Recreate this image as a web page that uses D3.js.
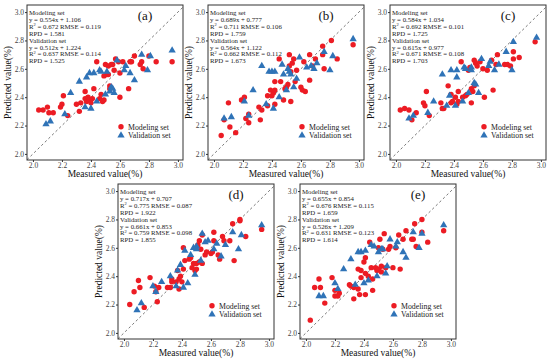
<!DOCTYPE html>
<html>
<head>
<meta charset="utf-8">
<script src="https://cdn.jsdelivr.net/npm/d3@7"></script>
<style>
  body { margin: 0; background: #fff; }
  svg { display: block; font-family: "Liberation Serif", "Times New Roman", serif; }
</style>
</head>
<body>
<svg id="chart" width="550" height="363"></svg>
<script>
'use strict';

// tick values shared by both axes
var tickValues = [2.0, 2.2, 2.4, 2.6, 2.8, 3.0];
var panelLabels = ['(a)', '(b)', '(c)', '(d)', '(e)'];
var legendLabels = ['Modeling set', 'Validation set'];

// [measured, predicted] pairs
var modelA = [[2.04,2.31],[2.07,2.31],[2.10,2.33],[2.11,2.29],[2.14,2.29],[2.19,2.33],[2.20,2.35],[2.21,2.41],
  [2.24,2.27],[2.30,2.35],[2.32,2.30],[2.33,2.36],[2.36,2.39],[2.36,2.44],[2.37,2.37],[2.38,2.40],[2.39,2.38],
  [2.40,2.36],[2.41,2.39],[2.42,2.46],[2.44,2.65],[2.46,2.39],[2.47,2.42],[2.48,2.37],[2.49,2.38],[2.49,2.55],
  [2.50,2.63],[2.51,2.56],[2.52,2.56],[2.52,2.62],[2.53,2.48],[2.53,2.46],[2.54,2.63],[2.55,2.63],[2.56,2.59],
  [2.57,2.67],[2.59,2.65],[2.60,2.57],[2.60,2.40],[2.62,2.65],[2.66,2.46],[2.67,2.65],[2.68,2.65],[2.70,2.69],
  [2.74,2.63],[2.75,2.65],[2.76,2.60],[2.80,2.69],[2.85,2.65],[2.96,2.65]];
var validA = [[2.09,2.21],[2.12,2.23],[2.22,2.28],[2.26,2.43],[2.32,2.51],[2.36,2.33],[2.37,2.54],[2.39,2.57],
  [2.40,2.32],[2.42,2.57],[2.44,2.37],[2.46,2.59],[2.47,2.58],[2.50,2.42],[2.51,2.58],[2.53,2.44],[2.54,2.47],
  [2.55,2.46],[2.56,2.43],[2.58,2.66],[2.63,2.59],[2.64,2.62],[2.67,2.57],[2.70,2.52],[2.75,2.70],[2.79,2.59],
  [2.81,2.69],[2.96,2.73]];

var modelB = [[2.05,2.13],[2.07,2.24],[2.10,2.36],[2.11,2.19],[2.15,2.15],[2.19,2.38],[2.21,2.40],[2.22,2.25],
  [2.24,2.22],[2.24,2.28],[2.31,2.33],[2.32,2.24],[2.33,2.31],[2.37,2.34],[2.37,2.41],[2.39,2.45],[2.40,2.41],
  [2.41,2.43],[2.42,2.45],[2.42,2.51],[2.42,2.35],[2.45,2.67],[2.46,2.51],[2.48,2.38],[2.49,2.46],[2.50,2.47],
  [2.51,2.49],[2.52,2.70],[2.52,2.62],[2.53,2.37],[2.53,2.58],[2.54,2.64],[2.55,2.67],[2.56,2.51],[2.57,2.59],
  [2.60,2.47],[2.61,2.45],[2.62,2.65],[2.63,2.44],[2.66,2.70],[2.66,2.52],[2.68,2.62],[2.70,2.67],[2.75,2.70],
  [2.75,2.76],[2.76,2.60],[2.81,2.80],[2.85,2.67],[2.96,2.77]];
var validB = [[2.07,2.25],[2.12,2.26],[2.21,2.37],[2.24,2.27],[2.27,2.45],[2.33,2.62],[2.36,2.35],[2.38,2.58],
  [2.40,2.58],[2.41,2.32],[2.42,2.58],[2.45,2.40],[2.47,2.63],[2.48,2.56],[2.50,2.45],[2.51,2.60],[2.52,2.58],
  [2.53,2.56],[2.55,2.47],[2.57,2.53],[2.59,2.68],[2.64,2.61],[2.67,2.62],[2.69,2.60],[2.71,2.64],[2.76,2.72],
  [2.80,2.59],[2.82,2.69],[2.96,2.81]];

var modelC = [[2.03,2.31],[2.06,2.32],[2.09,2.31],[2.11,2.24],[2.14,2.29],[2.19,2.36],[2.20,2.34],[2.21,2.44],
  [2.23,2.27],[2.31,2.36],[2.32,2.32],[2.33,2.32],[2.36,2.48],[2.38,2.36],[2.38,2.42],[2.39,2.37],[2.41,2.40],
  [2.42,2.35],[2.43,2.37],[2.43,2.44],[2.45,2.65],[2.46,2.40],[2.48,2.41],[2.49,2.42],[2.50,2.59],[2.51,2.61],
  [2.52,2.46],[2.52,2.36],[2.53,2.44],[2.54,2.48],[2.54,2.66],[2.55,2.64],[2.56,2.62],[2.58,2.65],[2.60,2.60],
  [2.61,2.40],[2.63,2.59],[2.66,2.66],[2.67,2.45],[2.69,2.63],[2.70,2.70],[2.75,2.63],[2.77,2.63],[2.79,2.62],
  [2.81,2.72],[2.81,2.67],[2.85,2.68],[2.96,2.79]];
var validC = [[2.09,2.25],[2.12,2.27],[2.22,2.29],[2.26,2.37],[2.32,2.56],[2.35,2.34],[2.37,2.41],[2.38,2.59],
  [2.41,2.34],[2.42,2.54],[2.42,2.59],[2.46,2.37],[2.47,2.61],[2.48,2.60],[2.50,2.43],[2.52,2.61],[2.52,2.59],
  [2.54,2.50],[2.55,2.49],[2.57,2.43],[2.59,2.67],[2.64,2.62],[2.65,2.65],[2.68,2.59],[2.71,2.63],[2.76,2.72],
  [2.80,2.59],[2.81,2.79],[2.97,2.82]];

var modelD = [[2.04,2.20],[2.07,2.29],[2.10,2.37],[2.11,2.32],[2.14,2.18],[2.18,2.39],[2.21,2.33],[2.22,2.29],
  [2.23,2.22],[2.24,2.32],[2.30,2.32],[2.32,2.32],[2.33,2.38],[2.33,2.36],[2.36,2.36],[2.37,2.44],[2.38,2.31],
  [2.38,2.38],[2.39,2.40],[2.40,2.36],[2.41,2.45],[2.41,2.60],[2.42,2.51],[2.45,2.52],[2.46,2.53],[2.47,2.46],
  [2.48,2.49],[2.49,2.44],[2.50,2.45],[2.50,2.49],[2.51,2.62],[2.52,2.65],[2.52,2.50],[2.53,2.59],[2.54,2.49],
  [2.54,2.69],[2.56,2.55],[2.57,2.57],[2.60,2.56],[2.61,2.57],[2.62,2.71],[2.62,2.65],[2.65,2.55],[2.66,2.52],
  [2.68,2.68],[2.69,2.65],[2.73,2.65],[2.75,2.77],[2.76,2.51],[2.80,2.79],[2.80,2.80],[2.84,2.68],[2.95,2.73]];
var validD = [[2.09,2.16],[2.12,2.21],[2.20,2.33],[2.22,2.29],[2.26,2.36],[2.32,2.40],[2.36,2.33],[2.37,2.44],
  [2.39,2.48],[2.41,2.32],[2.42,2.58],[2.44,2.35],[2.46,2.55],[2.48,2.60],[2.49,2.41],[2.50,2.61],[2.50,2.59],
  [2.53,2.51],[2.54,2.70],[2.56,2.64],[2.58,2.65],[2.62,2.59],[2.64,2.63],[2.67,2.54],[2.70,2.62],[2.75,2.71],
  [2.79,2.59],[2.81,2.69],[2.95,2.76]];

var modelE = [[2.03,2.09],[2.06,2.32],[2.09,2.38],[2.10,2.32],[2.13,2.21],[2.18,2.39],[2.20,2.30],[2.20,2.26],
  [2.22,2.26],[2.23,2.28],[2.30,2.34],[2.31,2.33],[2.33,2.24],[2.33,2.32],[2.36,2.45],[2.36,2.31],[2.37,2.27],
  [2.38,2.44],[2.38,2.39],[2.40,2.50],[2.41,2.53],[2.41,2.42],[2.41,2.27],[2.43,2.40],[2.44,2.64],[2.45,2.46],
  [2.46,2.30],[2.46,2.38],[2.48,2.46],[2.49,2.44],[2.50,2.45],[2.50,2.60],[2.51,2.66],[2.52,2.43],[2.52,2.47],
  [2.53,2.59],[2.54,2.70],[2.55,2.46],[2.57,2.59],[2.58,2.61],[2.60,2.46],[2.62,2.60],[2.64,2.69],[2.65,2.45],
  [2.67,2.66],[2.69,2.72],[2.73,2.66],[2.74,2.66],[2.75,2.77],[2.76,2.61],[2.80,2.80],[2.80,2.71],[2.84,2.64],
  [2.95,2.72]];
var validE = [[2.09,2.26],[2.12,2.26],[2.20,2.35],[2.22,2.31],[2.26,2.45],[2.31,2.52],[2.34,2.34],[2.36,2.57],
  [2.38,2.57],[2.40,2.35],[2.41,2.58],[2.43,2.37],[2.45,2.62],[2.47,2.61],[2.49,2.40],[2.50,2.57],[2.52,2.59],
  [2.53,2.59],[2.55,2.42],[2.56,2.47],[2.58,2.66],[2.62,2.61],[2.63,2.64],[2.67,2.57],[2.69,2.53],[2.74,2.71],
  [2.78,2.60],[2.80,2.70],[2.95,2.76]];

// statistics text, one array per panel
var statsA = ['Modeling set', 'y = 0.554x + 1.106', 'R2 = 0.672  RMSE = 0.119', 'RPD = 1.581',
  'Validation set', 'y = 0.512x + 1.224', 'R2 = 0.637  RMSE = 0.114', 'RPD = 1.525'];
var statsB = ['Modeling set', 'y = 0.689x + 0.777', 'R2 = 0.711  RMSE = 0.106', 'RPD = 1.759',
  'Validation set', 'y = 0.564x + 1.122', 'R2 = 0.662  RMSE = 0.112', 'RPD = 1.673'];
var statsC = ['Modeling set', 'y = 0.584x + 1.034', 'R2 = 0.692  RMSE = 0.101', 'RPD = 1.725',
  'Validation set', 'y = 0.615x + 0.977', 'R2 = 0.671  RMSE = 0.108', 'RPD = 1.703'];
var statsD = ['Modeling set', 'y = 0.717x + 0.707', 'R2 = 0.775  RMSE = 0.087', 'RPD = 1.922',
  'Validation set', 'y = 0.661x + 0.853', 'R2 = 0.759  RMSE = 0.098', 'RPD = 1.855'];
var statsE = ['Modeling set', 'y = 0.655x + 0.854', 'R2 = 0.676  RMSE = 0.115', 'RPD = 1.659',
  'Validation set', 'y = 0.526x + 1.209', 'R2 = 0.631  RMSE = 0.123', 'RPD = 1.614'];

var RED = '#ec1c24';
var BLUE = '#2f73b7';
var SERIF = 'Liberation Serif';
var W = 156, H = 155;

var svg = d3.select('#chart').attr('font-family', SERIF);

var panels = [
  { left: 27,  top: 5,   model: modelA, valid: validA, stats: statsA },
  { left: 208, top: 5,   model: modelB, valid: validB, stats: statsB },
  { left: 390, top: 5,   model: modelC, valid: validC, stats: statsC },
  { left: 118, top: 184, model: modelD, valid: validD, stats: statsD },
  { left: 300, top: 184, model: modelE, valid: validE, stats: statsE }
];

panels.forEach(function (p, i) {
  var g = svg.append('g').attr('transform', 'translate(' + p.left + ',' + p.top + ')');

  var x = d3.scaleLinear().domain([1.959, 3.035]).range([0, W]);
  var y = d3.scaleLinear().domain([1.957, 3.050]).range([H, 0]);

  // 1:1 line
  var lo = 1.959, hi = 3.035;
  g.append('line')
    .attr('x1', x(lo)).attr('y1', y(lo))
    .attr('x2', x(hi)).attr('y2', y(hi))
    .attr('stroke', '#555').attr('stroke-width', 0.8)
    .attr('stroke-dasharray', '2.5,2.5');

  // axes
  var xa = g.append('g').attr('transform', 'translate(0,' + H + ')')
    .call(d3.axisBottom(x).tickValues(tickValues).tickFormat(d3.format('.1f')).tickSize(2).tickSizeOuter(0));
  var ya = g.append('g')
    .call(d3.axisLeft(y).tickValues(tickValues).tickFormat(d3.format('.1f')).tickSize(2).tickSizeOuter(0));
  [xa, ya].forEach(function (a) {
    a.attr('font-family', SERIF);
    a.select('.domain').remove();
    a.selectAll('line').attr('stroke', '#333');
    a.selectAll('text').attr('font-size', 7.5).attr('fill', '#444');
  });
  xa.selectAll('text').attr('dy', null).attr('y', 8.3);
  ya.selectAll('text').attr('x', -3);

  // frame
  g.append('rect').attr('width', W).attr('height', H)
    .attr('fill', 'none').attr('stroke', '#333').attr('stroke-width', 1);

  // points
  g.selectAll('circle.m').data(p.model).enter().append('circle')
    .attr('class', 'm')
    .attr('cx', function (d) { return x(d[0]); })
    .attr('cy', function (d) { return y(d[1]); })
    .attr('r', 2.7).attr('fill', RED);

  var tri = d3.symbol().type(d3.symbolTriangle).size(23);
  g.selectAll('path.v').data(p.valid).enter().append('path')
    .attr('class', 'v')
    .attr('d', tri)
    .attr('transform', function (d) { return 'translate(' + x(d[0]) + ',' + y(d[1]) + ')'; })
    .attr('fill', BLUE);

  // stats block
  var st = g.append('text').attr('font-size', 6.8).attr('fill', '#222');
  p.stats.forEach(function (s, k) {
    var t = st.append('tspan').attr('x', 2).attr('y', 10 + k * 6.9);
    if (s.indexOf('R2') === 0) {
      t.text('R');
      t.append('tspan').attr('font-size', 4.5).attr('dy', -2.5).text('2');
      t.append('tspan').attr('dy', 2.5).text(s.slice(2));
    } else {
      t.text(s);
    }
  });

  // panel label
  g.append('text').attr('x', 118).attr('y', 14.5)
    .attr('text-anchor', 'middle').attr('font-size', 13).attr('fill', '#111')
    .text(panelLabels[i]);

  // legend
  g.append('circle').attr('cx', 94).attr('cy', 121.8).attr('r', 2.7).attr('fill', RED);
  g.append('path').attr('d', tri)
    .attr('transform', 'translate(94,130.5)').attr('fill', BLUE);
  g.append('text').attr('x', 101).attr('y', 124.5).attr('font-size', 7.8).attr('fill', '#222').text(legendLabels[0]);
  g.append('text').attr('x', 101).attr('y', 133.2).attr('font-size', 7.8).attr('fill', '#222').text(legendLabels[1]);

  // axis titles
  g.append('text').attr('x', W / 2).attr('y', H + 17)
    .attr('text-anchor', 'middle').attr('font-size', 9.5).attr('fill', '#111')
    .text('Measured value(%)');
  g.append('text')
    .attr('transform', 'translate(-16,' + (H / 2) + ') rotate(-90)')
    .attr('text-anchor', 'middle').attr('font-size', 9.5).attr('fill', '#111')
    .text('Predicted value(%)');
});
</script>
</body>
</html>
